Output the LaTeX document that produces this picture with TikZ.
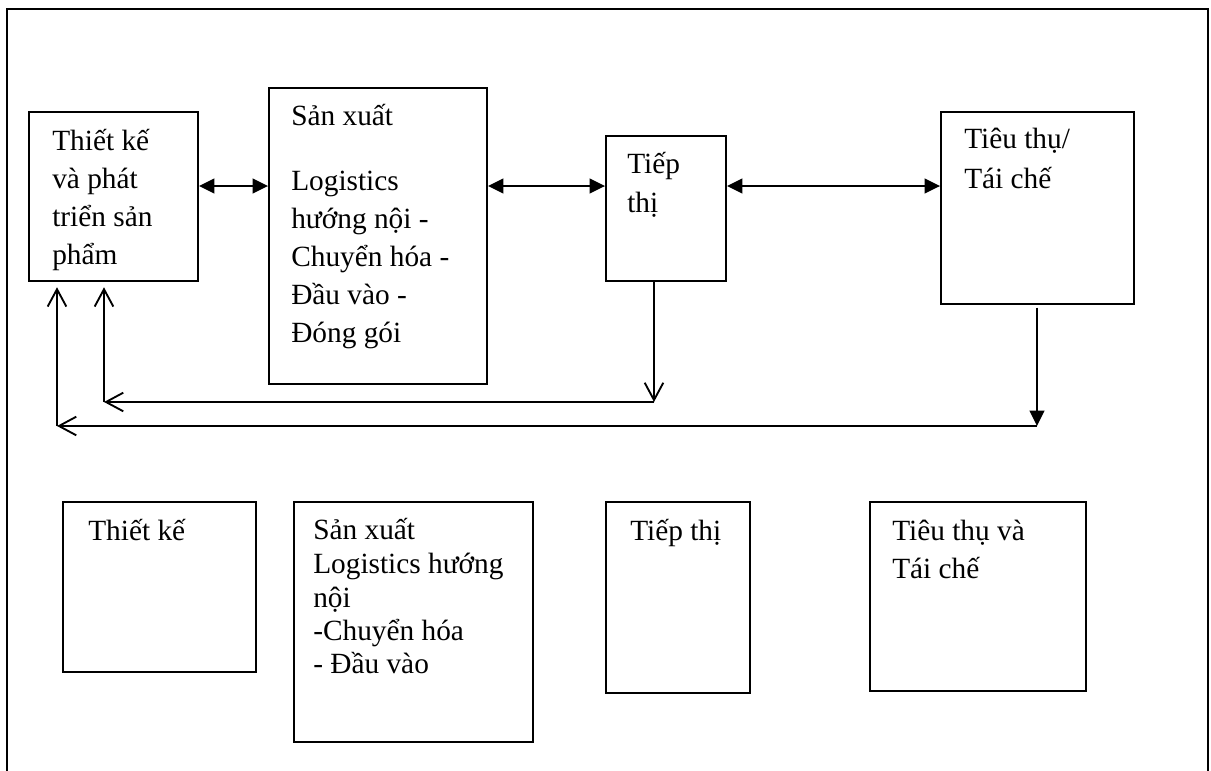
\documentclass[tikz,border=0pt]{standalone}
\usepackage{fontspec}
\setmainfont{Liberation Serif}
\usetikzlibrary{arrows.meta}
\tikzset{
  box/.style={draw, line width=1.4pt, inner sep=0pt},
  txt/.style={anchor=base west, inner sep=0pt, font=\fontsize{22pt}{26pt}\selectfont},
  conn/.style={line width=1.4pt},
  dbl/.style={conn, {Triangle[length=11.5pt,width=11pt]}-{Triangle[length=11.5pt,width=11pt]}},
  barb/.style={conn, -{Straight Barb[length=13pt,width=14pt,line width=1.4pt]}},
  tri/.style={conn, -{Triangle[length=11.5pt,width=11pt]}},
}
\newcommand\bx[5]{\node[box, minimum width={(#3-#1)*0.75pt}, minimum height={(#4-#2)*0.75pt}] (#5) at ({(#1+#3)/2},{(#2+#4)/2}) {};}
\begin{document}
\begin{tikzpicture}[x=0.75pt,y=-0.75pt]
\useasboundingbox (0,0) rectangle (1211,771);
% outer frame
\draw[conn] (7,771) -- (7,9) -- (1208,9) -- (1208,771);
% top row boxes
\bx{29}{112}{198}{281}{A1}
\bx{269}{88}{487}{384}{A2}
\bx{606}{136}{726}{281}{A3}
\bx{941}{112}{1134}{304}{A4}
% bottom row boxes
\bx{63}{502}{256}{672}{B1}
\bx{294}{502}{533}{742}{B2}
\bx{606}{502}{750}{693}{B3}
\bx{870}{502}{1086}{691}{B4}
% texts top row
\node[txt] (a1l1) at (52,150) {Thiết kế};
\node[txt] (a1l2) at (52,188) {và phát};
\node[txt] (a1l3) at (52,226) {triển sản};
\node[txt] (a1l4) at (52,264) {phẩm};
\node[txt] (a2l1) at (291,125) {Sản xuất};
\node[txt] (a2l2) at (291,190) {Logistics};
\node[txt] (a2l3) at (291,228) {hướng nội -};
\node[txt] (a2l4) at (291,266) {Chuyển hóa -};
\node[txt] (a2l5) at (291,304) {Đầu vào -};
\node[txt] (a2l6) at (291,342) {Đóng gói};
\node[txt] (a3l1) at (627,173) {Tiếp};
\node[txt] (a3l2) at (627,212) {thị};
\node[txt] (a4l1) at (964,148) {Tiêu thụ/};
\node[txt] (a4l2) at (964,188) {Tái chế};
% texts bottom row
\node[txt] (b1l1) at (88,540) {Thiết kế};
\node[txt] (b2l1) at (313,539) {Sản xuất};
\node[txt] (b2l2) at (313,573) {Logistics hướng};
\node[txt] (b2l3) at (313,607) {nội};
\node[txt] (b2l4) at (313,640) {-Chuyển hóa};
\node[txt] (b2l5) at (313,673) {- Đầu vào};
\node[txt] (b3l1) at (630,540) {Tiếp thị};
\node[txt] (b4l1) at (892,540) {Tiêu thụ và};
\node[txt] (b4l2) at (892,578) {Tái chế};
% connectors
\coordinate (row) at (0,186);
\draw[dbl] (A1.east |- row) -- (A2.west |- row);
\draw[dbl] (A2.east |- row) -- (A3.west |- row);
\draw[dbl] (A3.east |- row) -- (A4.west |- row);
\coordinate (c1) at (654,402);
\coordinate (c2) at (104,402);
\coordinate (d1) at (1037,426);
\coordinate (d2) at (57,426);
\draw[barb] (A3.south -| c1) -- (c1);
\draw[barb] (c1) -- (c2);
\draw[barb, shorten >=4pt] (c2) -- (c2 |- A1.south);
\draw[tri, shorten <=2pt] (A4.south -| d1) -- (d1);
\draw[barb] (d1) -- (d2);
\draw[barb, shorten >=4pt] (d2) -- (d2 |- A1.south);
\end{tikzpicture}
\end{document}
